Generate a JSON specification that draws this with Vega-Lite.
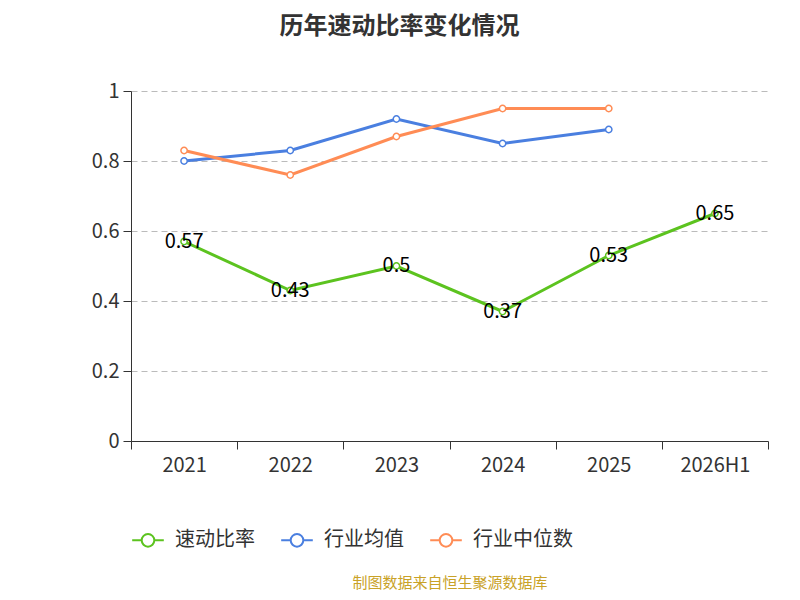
{
  "$schema": "https://vega.github.io/schema/vega-lite/v6.json",
  "width": 637,
  "height": 350,
  "autosize": "none",
  "padding": {"left": 131, "top": 91, "right": 32, "bottom": 159},
  "background": "white",
  "config": {"font": "Noto Sans CJK SC", "view": {"stroke": null}},
  "title": {"text": "历年速动比率变化情况", "fontSize": 24, "fontWeight": "bold", "color": "#333333", "offset": 42, "anchor": "middle", "dx": -50},
  "data": {"values": [
    {"year": "2021", "series": "速动比率", "v": 0.57},
    {"year": "2022", "series": "速动比率", "v": 0.43},
    {"year": "2023", "series": "速动比率", "v": 0.5},
    {"year": "2024", "series": "速动比率", "v": 0.37},
    {"year": "2025", "series": "速动比率", "v": 0.53},
    {"year": "2026H1", "series": "速动比率", "v": 0.65},
    {"year": "2021", "series": "行业均值", "v": 0.80},
    {"year": "2022", "series": "行业均值", "v": 0.83},
    {"year": "2023", "series": "行业均值", "v": 0.92},
    {"year": "2024", "series": "行业均值", "v": 0.85},
    {"year": "2025", "series": "行业均值", "v": 0.89},
    {"year": "2021", "series": "行业中位数", "v": 0.83},
    {"year": "2022", "series": "行业中位数", "v": 0.76},
    {"year": "2023", "series": "行业中位数", "v": 0.87},
    {"year": "2024", "series": "行业中位数", "v": 0.95},
    {"year": "2025", "series": "行业中位数", "v": 0.95}
  ]},
  "encoding": {
    "x": {"field": "year", "type": "ordinal", "sort": null,
      "scale": {"type": "band", "paddingInner": 0, "paddingOuter": 0},
      "axis": {"labelAngle": 0, "labelFontSize": 20, "labelColor": "#333333", "domainColor": "#333333", "tickColor": "#333333", "tickBand": "extent", "tickSize": 8, "labelPadding": 6,
        "title": "制图数据来自恒生聚源数据库", "titleFontSize": 15, "titleFontWeight": "normal", "titleColor": "#c9a227", "titlePadding": 100}},
    "y": {"field": "v", "type": "quantitative", "scale": {"domain": [0, 1]},
      "axis": {"title": null, "tickCount": 5, "format": "~g", "labelFontSize": 20, "labelColor": "#333333", "domainColor": "#333333", "tickColor": "#333333", "tickSize": 8, "gridDash": [6, 4], "gridColor": "#bbbbbb", "labelPadding": 4}},
    "color": {"field": "series", "type": "nominal", "sort": ["速动比率", "行业均值", "行业中位数"],
      "scale": {"domain": ["速动比率", "行业均值", "行业中位数"], "range": ["#5cc31f", "#4a7fe0", "#ff8c55"]},
      "legend": {"orient": "none", "direction": "horizontal", "legendX": 0, "legendY": 432, "title": null, "labelFontSize": 20, "labelColor": "#333333",
        "symbolType": "M-1,0 L-0.4,0 M0.4,0 A0.4,0.4 0 1,1 -0.4,0 A0.4,0.4 0 1,1 0.4,0 L1,0", "symbolSize": 1000, "symbolStrokeWidth": 2, "symbolFillColor": "white", "columnPadding": 22, "labelOffset": 10}}
  },
  "layer": [
    {"mark": {"type": "line", "strokeWidth": 3, "point": {"filled": false, "fill": "white", "size": 40, "strokeWidth": 1.5}}},
    {"transform": [{"filter": "datum.series == '速动比率'"}],
     "mark": {"type": "text", "fontSize": 20, "color": "black"},
     "encoding": {"text": {"field": "v", "type": "quantitative"}, "color": {"value": "black"}}}
  ]
}
